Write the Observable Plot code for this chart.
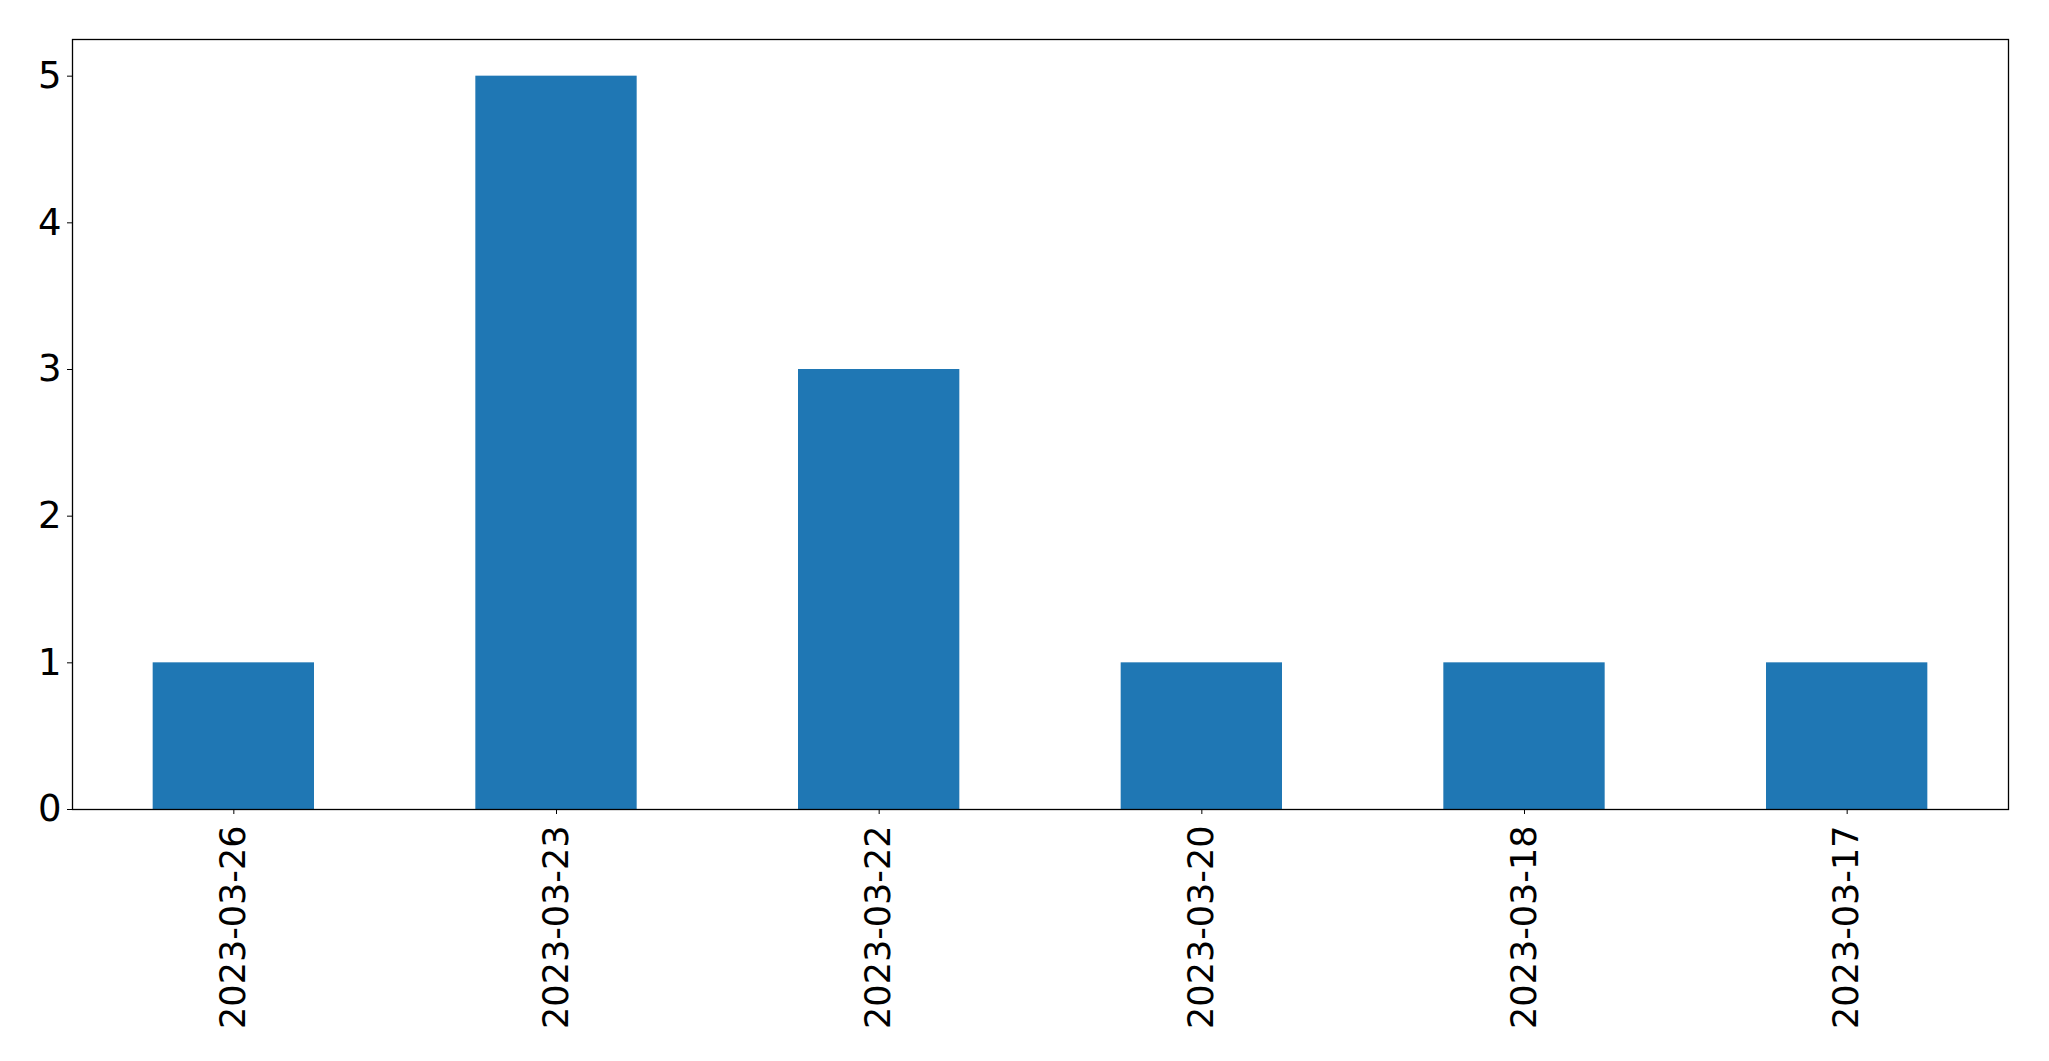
<!DOCTYPE html>
<html>
<head>
<meta charset="utf-8">
<script src="https://cdn.jsdelivr.net/npm/d3@7"></script>
<script src="https://cdn.jsdelivr.net/npm/@observablehq/plot@0.6"></script>
<style>
  html, body { margin: 0; padding: 0; background: #fff; }
  #chart { width: 2049px; height: 1061px; }
</style>
</head>
<body>
<div id="chart"></div>
<script>
const dates = ["2023-03-26", "2023-03-23", "2023-03-22", "2023-03-20", "2023-03-18", "2023-03-17"];
const counts = [1, 5, 3, 1, 1, 1];
const yTicks = [0, 1, 2, 3, 4, 5];

const data = dates.map((d, i) => ({date: d, count: counts[i]}));

const chart = Plot.plot({
  width: 2049,
  height: 1061,
  marginLeft: 72,
  marginRight: 41,
  marginTop: 39,
  marginBottom: 252,
  style: {fontFamily: "DejaVu Sans", color: "black", background: "white"},
  x: {domain: dates, paddingInner: 0.5, paddingOuter: 0.25, align: 0.5, round: false, label: null},
  y: {domain: [0, 5.25], label: null},
  marks: [
    Plot.barY(data, {x: "date", y: "count", fill: "#1f77b4"}),
    Plot.frame({stroke: "black", strokeWidth: 1.3}),
    Plot.axisX({tickRotate: -90, tickSize: 5, tickPadding: 11, fontSize: 35, label: null, stroke: "black"}),
    Plot.axisY({ticks: yTicks, tickFormat: d3.format("d"), tickSize: 5, tickPadding: 6, fontSize: 37, label: null, stroke: "black"})
  ]
});
document.getElementById("chart").appendChild(chart);
</script>
</body>
</html>
